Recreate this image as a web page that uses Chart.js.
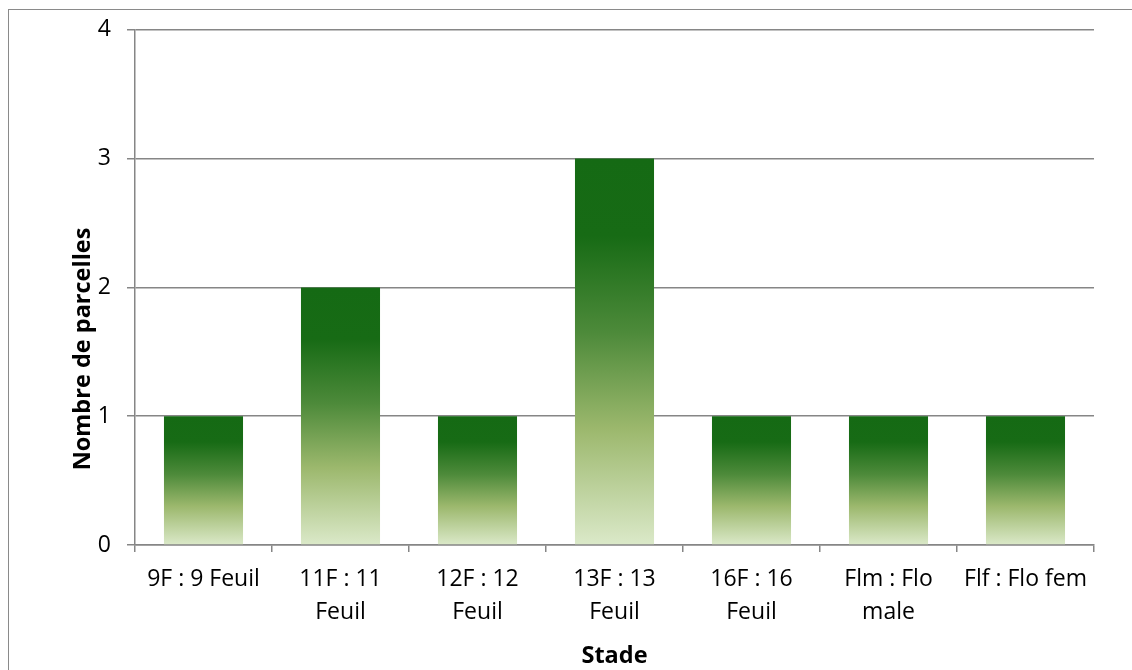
<!DOCTYPE html>
<html>
<head>
<meta charset="utf-8">
<script src="https://cdn.jsdelivr.net/npm/chart.js@4.4.1/dist/chart.umd.min.js"></script>
<style>
  html, body { margin: 0; padding: 0; background: #fff; overflow: hidden; }
  #frame { position: absolute; left: 8px; top: 9px; width: 1200px; height: 700px; border: 1.5px solid #8a8a8a; }
  #chart { position: absolute; left: 0; top: 0; }
</style>
</head>
<body>
<div id="frame"></div>
<canvas id="chart" width="1132" height="670"></canvas>
<script>
    // categories (one array per label, each line of the wrapped label)
    var categories = [
        ["9F : 9 Feuil"],
        ["11F : 11", "Feuil"],
        ["12F : 12", "Feuil"],
        ["13F : 13", "Feuil"],
        ["16F : 16", "Feuil"],
        ["Flm : Flo", "male"],
        ["Flf : Flo fem"]
    ];
    var parcelles = [1, 2, 1, 3, 1, 1, 1];
    var yTicks = [0, 1, 2, 3, 4];

    var font = "'Open Sans', 'Noto Sans', sans-serif";
    var gridColor = "#868686";

    // gradient for each bar, from the top of the bar down to the axis
    function barGradient(context) {
        var chart = context.chart;
        var yScale = chart.scales.y;
        if (!chart.chartArea || !yScale) {
            return "#5a9244";
        }
        var top = yScale.getPixelForValue(context.raw);
        var bottom = yScale.getPixelForValue(0);
        var g = chart.ctx.createLinearGradient(0, top, 0, bottom);
        g.addColorStop(0, "#156a14");
        g.addColorStop(0.2, "#176b15");
        g.addColorStop(0.45, "#4d8a3a");
        g.addColorStop(0.7, "#9cb86d");
        g.addColorStop(1, "#dbe9c9");
        return g;
    }

    // y title sits a bit lower than the plot centre in the original
    var yTitlePlugin = {
        id: "yTitle",
        afterDraw: function (chart) {
            var ctx = chart.ctx;
            ctx.save();
            ctx.translate(83, 349);
            ctx.rotate(-Math.PI / 2);
            ctx.font = "bold 23.5px " + font;
            ctx.fillStyle = "#000";
            ctx.textAlign = "center";
            ctx.textBaseline = "middle";
            ctx.fillText("Nombre de parcelles", 0, 0);
            ctx.restore();
        }
    };

    var ctx = document.getElementById("chart").getContext("2d");
    var myChart = new Chart(ctx, {
        type: "bar",
        data: {
            labels: categories,
            datasets: [{
                label: "Nombre de parcelles",
                data: parcelles,
                backgroundColor: barGradient,
                borderWidth: 0,
                categoryPercentage: 1,
                barPercentage: 0.577
            }]
        },
        options: {
            responsive: false,
            animation: false,
            devicePixelRatio: 1,
            layout: { padding: { top: 28, right: 38, left: 0, bottom: 0 } },
            plugins: {
                legend: { display: false },
                tooltip: { enabled: false }
            },
            scales: {
                x: {
                    afterFit: function (scale) { scale.height = 125; },
                    grid: {
                        offset: true,
                        drawOnChartArea: false,
                        drawTicks: true,
                        tickLength: 7,
                        color: gridColor,
                        lineWidth: 1.5
                    },
                    border: { display: true, color: gridColor, width: 1.5 },
                    ticks: {
                        color: "#000",
                        padding: 11,
                        maxRotation: 0,
                        autoSkip: false,
                        font: { family: font, size: 23, lineHeight: 1.43 }
                    },
                    title: {
                        display: true,
                        text: "Stade",
                        color: "#000",
                        padding: 0,
                        font: { family: font, size: 23.5, weight: "bold", lineHeight: 1.15 }
                    }
                },
                y: {
                    min: 0,
                    max: 4,
                    afterFit: function (scale) { scale.width = 135; },
                    afterBuildTicks: function (scale) {
                        scale.ticks = yTicks.map(function (v) { return { value: v }; });
                    },
                    grid: {
                        color: gridColor,
                        lineWidth: 1.5,
                        tickLength: 8
                    },
                    border: { display: true, color: gridColor, width: 1.5 },
                    ticks: {
                        color: "#000",
                        padding: 16,
                        font: { family: font, size: 23, lineHeight: 1.2 }
                    }
                }
            }
        },
        plugins: [yTitlePlugin]
    });
</script>
</body>
</html>
